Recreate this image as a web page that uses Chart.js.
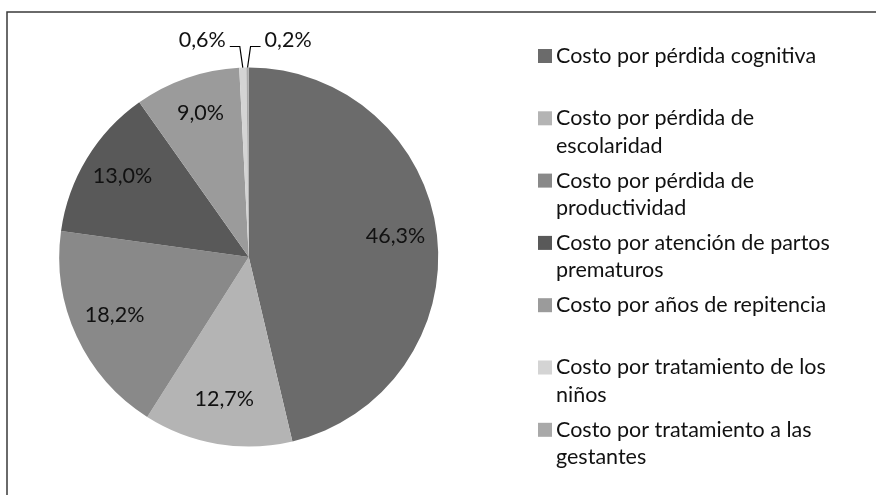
<!DOCTYPE html>
<html>
<head>
<meta charset="utf-8">
<script src="https://cdn.jsdelivr.net/npm/chart.js@4/dist/chart.umd.min.js"></script>
<style>
html,body{margin:0;padding:0;background:#fff;overflow:hidden}
#wrap{width:876px;height:495px}
</style>
</head>
<body>
<div id="wrap"><canvas id="pie" width="876" height="495"></canvas></div>
<script>
// categories (already split in lines like the legend shows them)
const categories = [
  ['Costo por pérdida cognitiva'],
  ['Costo por pérdida de', 'escolaridad'],
  ['Costo por pérdida de', 'productividad'],
  ['Costo por atención de partos', 'prematuros'],
  ['Costo por años de repitencia'],
  ['Costo por tratamiento de los', 'niños'],
  ['Costo por tratamiento a las', 'gestantes']
];
const shares = [46.3, 12.7, 18.2, 13.0, 9.0, 0.6, 0.2];
const sliceColors = ['#6b6b6b', '#b4b4b4', '#898989', '#595959', '#9b9b9b', '#d4d4d4', '#a9a9a9'];

const FONT = '21.5px Lato';
const fmt = v => v.toFixed(1).replace('.', ',') + '%';

const deco = {
  id: 'deco',
  afterDraw(chart){
    const ctx = chart.ctx, meta = chart.getDatasetMeta(0);
    ctx.save();
    // frame (top + left only, like the source crop)
    ctx.strokeStyle = '#3a3a3a'; ctx.lineWidth = 1.5;
    ctx.beginPath(); ctx.moveTo(876, 12); ctx.lineTo(7, 12); ctx.lineTo(7, 495); ctx.stroke();

    ctx.font = FONT; ctx.fillStyle = '#111'; ctx.textBaseline = 'middle';
    let side = 0;
    meta.data.forEach((arc, i) => {
      const p = arc.getProps(['x','y','startAngle','endAngle','outerRadius'], true);
      const mid = (p.startAngle + p.endAngle) / 2;
      const txt = fmt(shares[i]);
      if (shares[i] >= 2) {
        const r = p.outerRadius * 0.78;
        ctx.textAlign = 'center';
        ctx.fillText(txt, p.x + Math.cos(mid) * r, p.y + Math.sin(mid) * r - 4);
      } else {
        const left = side++ % 2 === 0;
        const px = p.x + Math.cos(mid) * p.outerRadius, py = p.y + Math.sin(mid) * p.outerRadius;
        const ky = p.y - p.outerRadius - 21;
        const kx = px + (left ? -3 : 3);
        const ex = kx + (left ? -10 : 10);
        ctx.strokeStyle = '#000'; ctx.lineWidth = 1.2;
        ctx.beginPath(); ctx.moveTo(px, py); ctx.lineTo(kx, ky); ctx.lineTo(ex, ky); ctx.stroke();
        ctx.textAlign = left ? 'right' : 'left';
        ctx.fillText(txt, ex + (left ? -4 : 4), ky - 6);
      }
    });

    // legend
    const lx = 538, ly0 = 56, step = 62.3, lineH = 27.5, box = 14;
    ctx.textAlign = 'left';
    categories.forEach((lines, i) => {
      const y = ly0 + i * step;
      ctx.fillStyle = sliceColors[i];
      ctx.fillRect(lx, y - box / 2, box, box);
      ctx.fillStyle = '#111';
      lines.forEach((t, j) => ctx.fillText(t, lx + 18, y + j * lineH));
    });
    ctx.restore();
  }
};

new Chart(document.getElementById('pie'), {
  type: 'pie',
  data: {
    labels: categories,
    datasets: [{ data: shares, backgroundColor: sliceColors, borderWidth: 0 }]
  },
  options: {
    responsive: false,
    animation: false,
    devicePixelRatio: 1,
    layout: { padding: { left: 59, top: 67.5, right: 437.5, bottom: 48.5 } },
    plugins: { legend: { display: false }, tooltip: { enabled: false } }
  },
  plugins: [deco]
});
</script>
</body>
</html>
